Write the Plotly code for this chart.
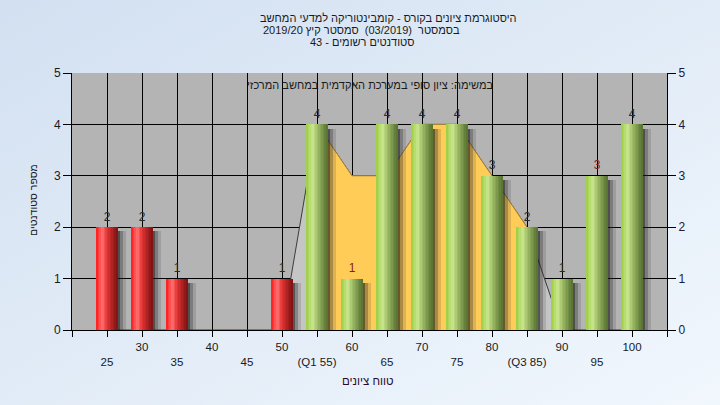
import base64
import plotly.graph_objects as go

# ---- data ----
CATEGORIES = [25, 30, 35, 40, 45, 50, 55, 60, 65, 70, 75, 80, 85, 90, 95, 100]
TICK_LABELS = ["25", "30", "35", "40", "45", "50", "(Q1 55)", "60", "65", "70",
               "75", "80", "(Q3 85)", "90", "95", "100"]
COUNTS = [2, 2, 1, 0, 0, 1, 4, 1, 4, 4, 4, 3, 2, 1, 3, 4]
AREA = [0, 0, 0, 0, 0, 0, 4, 3, 3, 4, 4, 3, 2, 0, 0, 0]
PASS_GRADE = 55
Q1, Q3 = 55, 85

TITLE_LINES = ["היסטוגרמת ציונים בקורס - קומבינטוריקה למדעי המחשב",
               "בסמסטר  (03/2019)  סמסטר קיץ 2019/20",
               "סטודנטים רשומים - 43"]
SUBTITLE = "במשימה: ציון סופי במערכת האקדמית במחשב המרכזי"
X_TITLE = "טווח ציונים"
Y_TITLE = "מספר סטודנטים"

FONT = "Liberation Sans, DejaVu Sans, Arial, sans-serif"
idx = list(range(len(CATEGORIES)))

# plot-area geometry in pixels
W, H = 720, 405
L, R, T, B = 72, 53, 73, 75
PW, PH = W - L - R, H - T - B


def ypaper(ypix):
    return (H - B - ypix) / PH


def xpaper(xpix):
    return (xpix - L) / PW


def hex2rgb(h):
    h = h.lstrip("#")
    return tuple(int(h[i:i + 2], 16) for i in (0, 2, 4))


def grad(stops, t):
    for (t0, c0), (t1, c1) in zip(stops, stops[1:]):
        if t0 <= t <= t1:
            f = (t - t0) / (t1 - t0) if t1 > t0 else 0
            a, b = hex2rgb(c0), hex2rgb(c1)
            return "rgb(%d,%d,%d)" % tuple(round(a[i] + (b[i] - a[i]) * f) for i in range(3))
    return stops[-1][1]


RED = [(0, "#ff1a1a"), (0.28, "#ff7272"), (0.5, "#e53535"), (1, "#7a1111")]
GREEN = [(0, "#9ccd42"), (0.3, "#cae78f"), (0.55, "#9cb965"), (1, "#55702e")]

fig = go.Figure()

# background area (frequency outline), grey outside the quartiles, yellow inside
fig.add_trace(go.Scatter(x=idx, y=AREA, mode="lines", fill="tozeroy",
                         fillcolor="#c5c5c5", line=dict(color="#3c3c3c", width=1),
                         hoverinfo="skip", showlegend=False))
qi = [i for i in idx if Q1 <= CATEGORIES[i] <= Q3]
fig.add_trace(go.Scatter(x=qi, y=[AREA[i] for i in qi], mode="lines", fill="tozeroy",
                         fillcolor="#ffcc58", line=dict(color="#a8843a", width=1),
                         hoverinfo="skip", showlegend=False))

BW = 0.6
# shadows (drawn on the overlaying subplot so they sit above the area)
for off, wd, col in [(BW / 2 - 0.02, 0.1, "rgba(25,25,25,0.65)"),
                     (BW / 2 + 0.08, 0.08, "rgba(40,40,40,0.4)"),
                     (BW / 2 + 0.16, 0.07, "rgba(60,60,60,0.18)")]:
    fig.add_trace(go.Bar(x=idx, y=[max(c - 0.08, 0) if c else 0 for c in COUNTS],
                         width=wd, offset=off, marker=dict(color=col, line=dict(width=0)),
                         hoverinfo="skip", showlegend=False, yaxis="y2"))

# cylinder-like bars built from vertical strips
N = 14
for k in range(N):
    t = (k + 0.5) / N
    cols = [grad(GREEN if c >= PASS_GRADE else RED, t) for c in CATEGORIES]
    fig.add_trace(go.Bar(x=idx, y=COUNTS, width=BW / N + 0.004, offset=-BW / 2 + k * BW / N,
                         marker=dict(color=cols, line=dict(width=0)),
                         hoverinfo="skip", showlegend=False, yaxis="y2"))

# value labels
lab_i = [i for i in idx if COUNTS[i] > 0]
lab_col = ["#8a1c1c" if CATEGORIES[i] in (60, 95) else "#2a2a2a" for i in lab_i]
fig.add_trace(go.Scatter(x=lab_i, y=[COUNTS[i] + 0.07 for i in lab_i], mode="text",
                         text=[str(COUNTS[i]) for i in lab_i], textposition="top center",
                         textfont=dict(family=FONT, size=12, color=lab_col),
                         cliponaxis=False, hoverinfo="skip", showlegend=False, yaxis="y2"))

tickvals = list(range(-1, len(CATEGORIES) + 1))
ticktext = [""] + [(lab if i % 2 else "<br>" + lab) for i, lab in enumerate(TICK_LABELS)] + [""]

svg = ('<svg xmlns="http://www.w3.org/2000/svg" width="720" height="405">'
       '<defs><linearGradient id="g" x1="0" y1="0" x2="1" y2="1">'
       '<stop offset="0" stop-color="#d2e0f1"/><stop offset="1" stop-color="#f1f7fd"/>'
       '</linearGradient></defs><rect width="720" height="405" fill="url(#g)"/></svg>')
src = "data:image/svg+xml;base64," + base64.b64encode(svg.encode()).decode()

annotations = []
for txt, cx, cy in zip(TITLE_LINES, [388, 361, 362], [18, 30, 42]):
    annotations.append(dict(text=txt, x=xpaper(cx), y=ypaper(cy), xref="paper", yref="paper",
                            showarrow=False, xanchor="center", yanchor="middle",
                            font=dict(family=FONT, size=11, color="#1a1a1a")))
annotations.append(dict(text=SUBTITLE, x=xpaper(370), y=ypaper(85), xref="paper", yref="paper",
                        showarrow=False, xanchor="center", yanchor="middle",
                        font=dict(family=FONT, size=11, color="#1a1a1a")))
annotations.append(dict(text=X_TITLE, x=xpaper(368), y=ypaper(381), xref="paper", yref="paper",
                        showarrow=False, xanchor="center", yanchor="middle",
                        font=dict(family=FONT, size=11.5, color="#2a0a2a")))
annotations.append(dict(text=Y_TITLE, x=xpaper(33), y=ypaper(200), xref="paper", yref="paper",
                        showarrow=False, xanchor="center", yanchor="middle", textangle=-90,
                        font=dict(family=FONT, size=10.5, color="#1a1a1a")))

fig.update_layout(
    width=W, height=H,
    margin=dict(l=L, r=R, t=T, b=B, pad=0),
    paper_bgcolor="#e2ecf8", plot_bgcolor="#b4b4b4",
    barmode="overlay", bargap=0,
    showlegend=False,
    font=dict(family=FONT, size=11.5, color="#1a1a1a"),
    images=[dict(source=src, xref="paper", yref="paper", x=xpaper(0), y=ypaper(0),
                 sizex=W / PW, sizey=H / PH, xanchor="left", yanchor="top",
                 sizing="stretch", layer="below")],
    shapes=[dict(type="rect", xref="paper", yref="paper", x0=0, x1=1, y0=0, y1=1,
                 fillcolor="#b4b4b4", line=dict(width=0), layer="below")],
    xaxis=dict(range=[-1, len(CATEGORIES)], tickmode="array", tickvals=tickvals,
               ticktext=ticktext, ticks="outside", ticklen=6, tickcolor="black",
               showgrid=True, gridcolor="black", gridwidth=1, zeroline=False,
               showline=True, linecolor="black", linewidth=1,
               tickfont=dict(family=FONT, size=11.5, color="#1a1a1a"), fixedrange=True),
    yaxis=dict(range=[0, 5], dtick=1, ticks="outside", ticklen=8, tickcolor="black",
               showgrid=True, gridcolor="black", gridwidth=1, zeroline=False,
               showline=True, linecolor="black", linewidth=1,
               tickfont=dict(family=FONT, size=12, color="#1a1a1a")),
    yaxis2=dict(range=[0, 5], dtick=1, overlaying="y", side="right", ticks="outside",
                ticklen=8, tickcolor="black", showgrid=False, zeroline=False,
                showline=True, linecolor="black", linewidth=1,
                tickfont=dict(family=FONT, size=12, color="#1a1a3a")),
    annotations=annotations,
)

fig.write_html("out.html", config={"displayModeBar": False},
               post_script="document.body.style.margin='0';")
